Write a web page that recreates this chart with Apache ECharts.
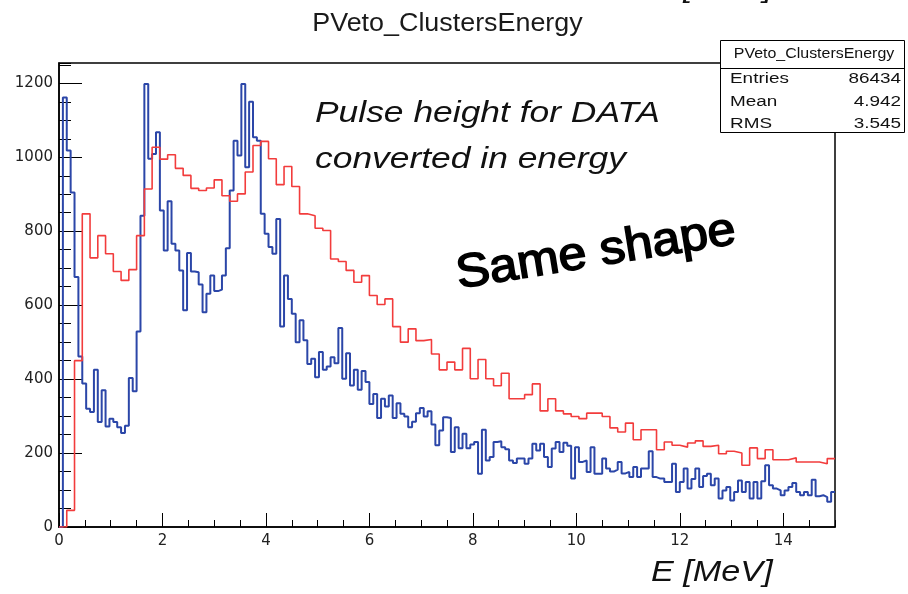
<!DOCTYPE html>
<html><head><meta charset="utf-8">
<script src="https://cdn.jsdelivr.net/npm/echarts@6/dist/echarts.min.js"></script>
<style>html,body{margin:0;padding:0;background:#fff}#c{width:908px;height:594px}</style>
</head><body><div id="c"></div>
<script>
// Blue histogram: 200 bins of 0.075 MeV (0..15 MeV)
const blueValues = [
0,1162,1018,905,676,461,388,320,311,425,
284,370,272,293,284,270,254,274,403,367,
529,842,1198,996,1009,1068,856,748,881,766,
748,694,586,741,691,689,656,581,631,680,
638,642,680,754,910,1045,1005,1198,973,1150,
1054,1045,847,793,757,739,833,542,680,617,
577,500,559,505,441,455,405,473,425,434,
459,443,538,401,470,383,425,371,422,392,
333,360,295,347,326,356,295,335,306,299,
270,285,308,322,299,313,277,221,261,297,
295,203,270,213,252,213,223,230,144,263,
180,189,230,232,216,210,180,173,185,185,
171,185,225,207,225,189,162,212,230,203,
228,220,131,216,176,180,149,216,144,144,
185,158,150,155,176,145,149,135,162,135,
158,158,205,135,131,131,122,122,171,95,
122,158,104,130,158,108,138,144,113,131,
77,99,108,72,95,126,95,122,77,122,
77,124,167,113,104,99,86,99,108,119,
95,86,95,86,128,83,86,81,68,95];
// Red histogram: 100 bins of 0.15 MeV
const redValues = [
0,45,450,847,728,788,739,691,667,696,
788,914,1027,995,1007,970,951,916,910,917,
939,896,881,901,960,1032,1043,996,926,975,
921,847,842,808,802,725,718,694,662,680,
626,602,617,542,500,536,504,507,468,425,
446,425,483,401,453,401,382,416,347,347,
358,387,314,347,314,306,299,293,308,308,
299,268,257,281,236,263,263,209,230,221,
216,227,233,218,221,198,205,200,167,214,
185,209,182,182,187,176,176,176,171,185];
const blueBinWidth = 0.075;
const redBinWidth = 0.15;
const xRange = [0, 15];
const yRange = [0, 1255];
const titleText = 'PVeto_ClustersEnergy';
const statsTitle = 'PVeto_ClustersEnergy';
const statsRows = [['Entries', '86434'], ['Mean', '4.942'], ['RMS', '3.545']];
const noteLines = ['Pulse height for DATA', 'converted in energy'];
const shapeNote = 'Same shape';
const xTitle = 'E [MeV]';

function toSteps(values, w) {
  const pts = values.map((v, i) => [i * w, v]);
  pts.push([values.length * w, values[values.length - 1]]);
  return pts;
}

const chart = echarts.init(document.getElementById('c'), null, {renderer: 'canvas'});
const tickStyle = {color: '#000', width: 1};
const labelFont = {fontFamily: 'DejaVu Sans', fontSize: 15, color: '#222', formatter: v => String(v)};
const helv = '"Liberation Sans", Arial, sans-serif';

const option = {
  animation: false,
  backgroundColor: '#fff',
  grid: {left: 59, right: 73, top: 63, bottom: 67, show: true, borderColor: '#000', borderWidth: 1.5, backgroundColor: 'transparent'},
  xAxis: [
    {type: 'value', min: xRange[0], max: xRange[1], interval: 2, position: 'bottom',
     axisLine: {show: true, onZero: false, lineStyle: {color: '#000', width: 1.5}},
     axisTick: {show: true, inside: true, length: 14, lineStyle: tickStyle},
     axisLabel: Object.assign({margin: 7, showMaxLabel: false}, labelFont),
     splitLine: {show: false}},
    {type: 'value', min: xRange[0], max: xRange[1], interval: 0.5, position: 'bottom',
     axisLine: {show: false, onZero: false},
     axisTick: {show: true, inside: true, length: 7, lineStyle: tickStyle},
     axisLabel: {show: false}, splitLine: {show: false}}
  ],
  yAxis: [
    {type: 'value', min: yRange[0], max: yRange[1], interval: 200, position: 'left',
     axisLine: {show: true, onZero: false, lineStyle: {color: '#000', width: 1.5}},
     axisTick: {show: true, inside: true, length: 23, lineStyle: tickStyle},
     axisLabel: Object.assign({margin: 6, showMaxLabel: false}, labelFont),
     splitLine: {show: false}},
    {type: 'value', min: yRange[0], max: yRange[1], interval: 50, position: 'left',
     axisLine: {show: false, onZero: false},
     axisTick: {show: true, inside: true, length: 12, lineStyle: tickStyle},
     axisLabel: {show: false}, splitLine: {show: false}}
  ],
  series: [
    {type: 'line', name: 'blue', xAxisIndex: 0, yAxisIndex: 0, data: toSteps(blueValues, blueBinWidth),
     step: 'end', symbol: 'none', showSymbol: false, clip: true,
     lineStyle: {color: '#2b46a8', width: 2}, z: 3},
    {type: 'line', name: 'red', xAxisIndex: 0, yAxisIndex: 0, data: toSteps(redValues, redBinWidth),
     step: 'end', symbol: 'none', showSymbol: false, clip: true,
     lineStyle: {color: '#f23c3c', width: 1.6}, z: 4}
  ],
  graphic: [
    {type: 'text', x: 447.5, y: 24, scaleX: 1.075, z: 100,
     style: {text: titleText, fontFamily: helv, fontSize: 25, fill: '#1a1a1a', textAlign: 'center', textVerticalAlign: 'middle'}},
    {type: 'rect', z: 100, shape: {x: 720.5, y: 40.5, width: 184, height: 92},
     style: {fill: '#fff', stroke: '#000', lineWidth: 1}},
    {type: 'line', z: 101, shape: {x1: 720.5, y1: 68.5, x2: 904.5, y2: 68.5},
     style: {stroke: '#000', lineWidth: 1.2}},
    {type: 'text', x: 814, y: 54, scaleX: 1.1, z: 102,
     style: {text: statsTitle, fontFamily: helv, fontSize: 14.5, fill: '#111', textAlign: 'center', textVerticalAlign: 'middle'}},
    ...statsRows.map((r, i) => ({type: 'text', x: 730, y: 79 + i * 22.4, scaleX: 1.22, z: 102,
      style: {text: r[0], fontFamily: helv, fontSize: 15.5, fill: '#111', textAlign: 'left', textVerticalAlign: 'middle'}})),
    ...statsRows.map((r, i) => ({type: 'text', x: 901, y: 79 + i * 22.4, scaleX: 1.22, z: 102,
      style: {text: r[1], fontFamily: helv, fontSize: 15.5, fill: '#111', textAlign: 'right', textVerticalAlign: 'middle'}})),
    ...noteLines.map((t, i) => ({type: 'text', x: 315, y: 114 + i * 46, scaleX: 1.18, z: 100,
      style: {text: t, fontFamily: helv, fontStyle: 'italic', fontSize: 30, fill: '#111', textAlign: 'left', textVerticalAlign: 'middle'}})),
    {type: 'text', x: 596, y: 253, scaleX: 1.07, rotation: 9.2 * Math.PI / 180, z: 100,
     style: {text: shapeNote, fontFamily: helv, fontSize: 47, fill: '#000', stroke: '#000', lineWidth: 1.6, textAlign: 'center', textVerticalAlign: 'middle'}},
    {type: 'text', x: 651, y: 572.5, scaleX: 1.14, z: 100,
     style: {text: xTitle, fontFamily: helv, fontStyle: 'italic', fontSize: 30, fill: '#111', textAlign: 'left', textVerticalAlign: 'middle'}},
    {type: 'text', x: 651, y: -11, scaleX: 1.14, z: 100,
     style: {text: xTitle, fontFamily: helv, fontStyle: 'italic', fontSize: 30, fill: '#111', textAlign: 'left', textVerticalAlign: 'middle'}}
  ]
};
chart.setOption(option);
</script></body></html>
